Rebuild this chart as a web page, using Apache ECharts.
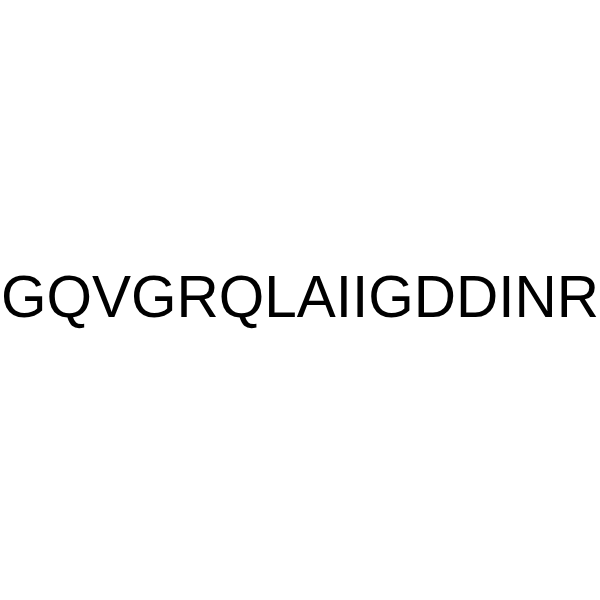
<!DOCTYPE html>
<html>
<head>
<meta charset="utf-8">
<script src="https://cdn.jsdelivr.net/npm/echarts@6/dist/echarts.min.js"></script>
<style>
html,body{margin:0;padding:0;background:#fff;}
#chart{width:600px;height:600px;}
</style>
</head>
<body>
<div id="chart"></div>
<script>
const residues = ["G","Q","V","G","R","Q","L","A","I","I","G","D","D","I","N","R"];
const labelText = residues.join("");

const chart = echarts.init(document.getElementById('chart'));
chart.setOption({
  backgroundColor: '#ffffff',
  animation: false,
  graphic: [{
    type: 'text',
    left: 'center',
    top: 271,
    style: {
      text: labelText,
      fill: '#000000',
      font: '58.5px "Liberation Sans", Arial, sans-serif',
      textVerticalAlign: 'top'
    }
  }]
});
</script>
</body>
</html>
